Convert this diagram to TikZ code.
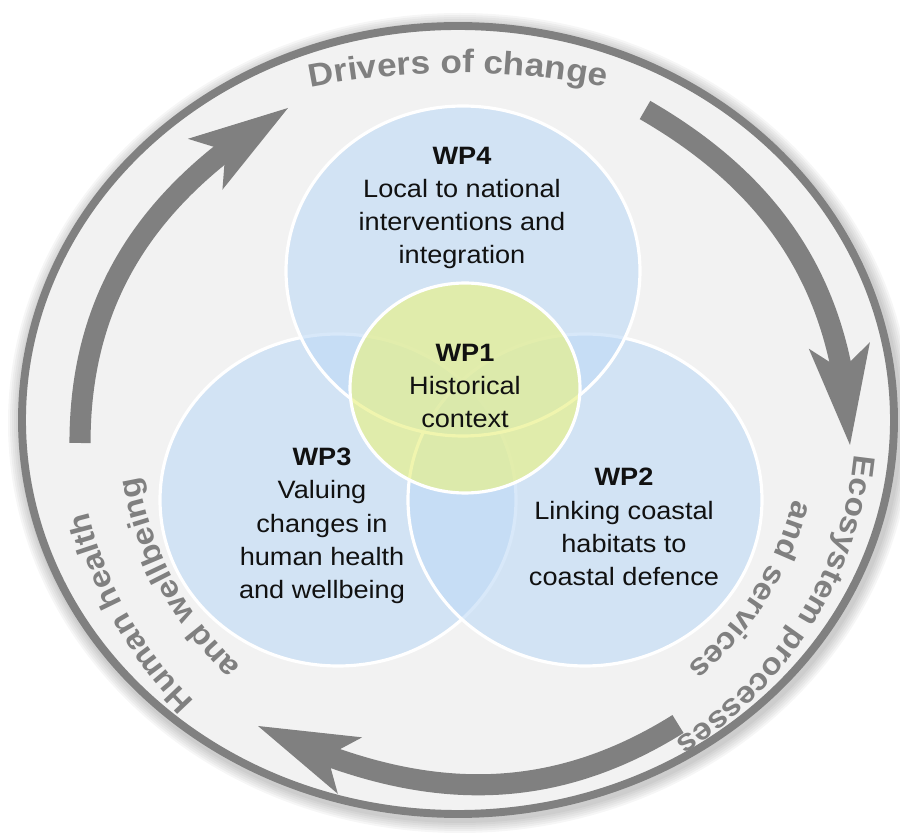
\documentclass[tikz,border=0pt]{standalone}
\usepackage{fontspec}
\setmainfont{Liberation Sans}[FakeStretch=1.08]
\usetikzlibrary{arrows.meta,bending,calc,decorations.text}

\definecolor{ringgray}{RGB}{128,128,128}
\definecolor{ringfill}{RGB}{242,242,242}
\definecolor{wpblue}{RGB}{190,218,246}
\definecolor{wpgreen}{RGB}{232,241,132}
\definecolor{wptext}{RGB}{17,17,17}

\newcommand\wpfont{\fontsize{14.3}{18.9}\selectfont}
\newcommand\ringfont{\fontsize{17.5}{20}\selectfont\bfseries\color{ringgray}}
\newcommand\topfont{\fontsize{18.5}{22}\selectfont\bfseries\color{ringgray}}

\begin{document}
\begin{tikzpicture}[x=0.02cm, y=0.02cm,
    wpdisc/.style={fill=wpblue, fill opacity=0.6, draw=white, line width=1.8pt},
    wplabel/.style={font=\wpfont, text=wptext, align=center, inner sep=0pt},
    cyclearrow/.style={draw=ringgray, line width=12pt,
        -{Stealth[length=57pt, width=35pt, inset=14pt, line width=0pt]}},
    ringtext/.style={decorate, decoration={text along path, text align=center}}]
\useasboundingbox (0,0) rectangle (900,839);
\coordinate (ringc) at (458,419);
% soft glow round the ring
\foreach \g in {12,10,...,2}
  \fill[black, opacity=0.035] ($(ringc)+(2,-3)$) ellipse[x radius=440+\g, y radius=398+\g];
\path[fill=ringfill, draw=ringgray, line width=4.5pt] (ringc) ellipse[x radius=436, y radius=394];

% cycle arrows
\coordinate (lefttail) at (80,396);
\coordinate (lefttip) at (288,731);
\coordinate (righttail) at (645,729);
\coordinate (righttip) at (850,394);
\coordinate (bottomtail) at (678,115);
\coordinate (bottomtip) at (258,113);
\draw[cyclearrow] (lefttail) to[out=90, in=211] (lefttip);
\draw[cyclearrow] (righttail) to[out=-30, in=92] (righttip);
\draw[cyclearrow] (bottomtail) to[out=212, in=334] (bottomtip);

% ring texts
\path[ringtext, decoration={text={|\topfont|Drivers of change}}]
  ($(ringc)+(125:514 and 347)$) arc[start angle=125, end angle=55, x radius=514, y radius=347];
\path[ringtext, decoration={text={|\ringfont|Ecosystem processes}}]
  ($(ringc)+(0:398 and 382)$) arc[start angle=0, end angle=-62, x radius=398, y radius=382];
\path[ringtext, decoration={text={|\ringfont|and services}}]
  ($(ringc)+(0:346 and 330)$) arc[start angle=0, end angle=-62, x radius=346, y radius=330];
\path[ringtext, decoration={text={|\ringfont|Human health}}]
  ($(ringc)+(245:380 and 390)$) arc[start angle=245, end angle=175, x radius=380, y radius=390];
\path[ringtext, decoration={text={|\ringfont|and wellbeing}}]
  ($(ringc)+(244:324 and 332)$) arc[start angle=244, end angle=174, x radius=324, y radius=332];

% work packages
\path[wpdisc] (338,339) ellipse[x radius=178, y radius=166];
\path[wpdisc] (585,339) ellipse[x radius=177, y radius=166];
\path[wpdisc] (463,568) ellipse[x radius=177, y radius=165];
\path[wpdisc, fill=wpgreen, fill opacity=0.65] (465,451) ellipse[x radius=115, y radius=105];

\node[wplabel] (wp4) at (462,631) {\textbf{WP4}\\Local to national\\interventions and\\integration};
\node[wplabel] (wp1) at (465,453) {\textbf{WP1}\\Historical\\context};
\node[wplabel] (wp3) at (322,313) {\textbf{WP3}\\Valuing\\changes in\\human health\\and wellbeing};
\node[wplabel] (wp2) at (624,312) {\textbf{WP2}\\Linking coastal\\habitats to\\coastal defence};
\end{tikzpicture}
\end{document}
